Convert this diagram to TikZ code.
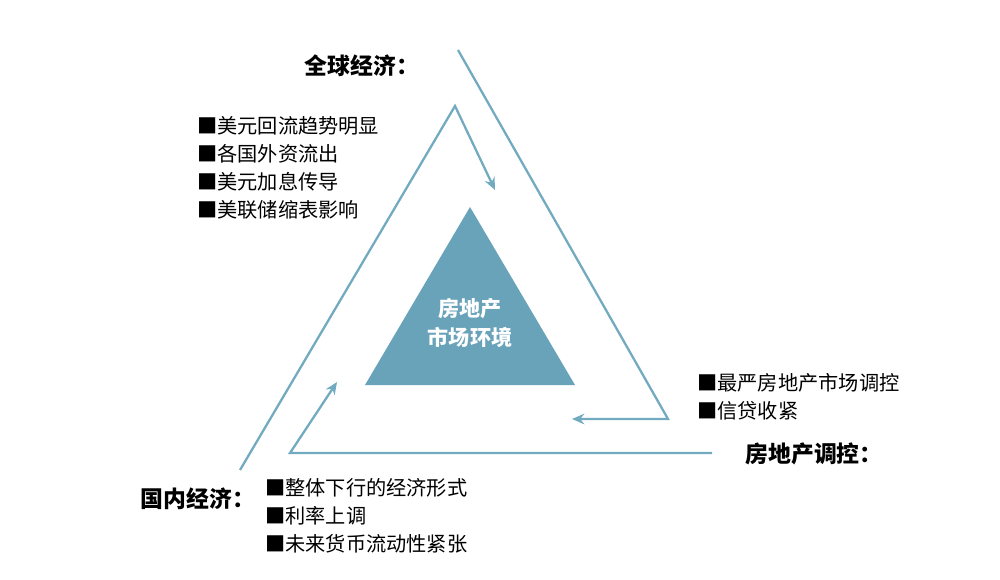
\documentclass[tikz,border=0pt]{standalone}
\usepackage{fontspec}
\setmainfont{Noto Sans CJK SC}
\usetikzlibrary{arrows.meta}
\definecolor{lineblue}{HTML}{72AABF}
\definecolor{triblue}{HTML}{69A3BA}
\begin{document}
\begin{tikzpicture}[x=0.02cm,y=-0.02cm,
    flow/.style={draw=lineblue, line width=1.3pt, -{Stealth[length=7pt,width=6pt]}},
    head/.style={font=\fontsize{13}{15}\selectfont\bfseries, inner sep=0pt},
    item/.style={font=\fontsize{11.5}{14}\selectfont, anchor=west, inner sep=0pt}]
    \useasboundingbox (0,0) rectangle (1000,579);
    % Center triangle
    \fill[triblue] (470,207) coordinate (Apex) -- (575,385) -- (365,385) -- cycle;
    \node[font=\fontsize{12}{17}\selectfont\bfseries, text=white, align=center] (Center) at (470,323) {房地产\\市场环境};
    % Corner points
    \coordinate (Top-1) at (458,50);
    \coordinate (Top-2) at (668,419);
    \coordinate (Top-3) at (572,419);
    \coordinate (Bot-1) at (712,453);
    \coordinate (Bot-2) at (290,453);
    \coordinate (Bot-3) at (337,382);
    \coordinate (Left-1) at (240,470);
    \coordinate (Left-2) at (455,106);
    \coordinate (Left-3) at (495,190);
    % Arrows
    \draw[flow] (Top-1) -- (Top-2) -- (Top-3);
    \draw[flow] (Bot-1) -- (Bot-2) -- (Bot-3);
    \draw[flow] (Left-1) -- (Left-2) -- (Left-3);
    % Global economy
    \node[head] (Global) at (362,66) {全球经济：};
    \foreach \txt/\i/\y in {美元回流趋势明显/1/126,各国外资流出/2/154,美元加息传导/3/182,美联储缩表影响/4/210} {
        \node[item] (Global-\i) at (197,\y) {■\txt};
    }
    % Regulation
    \node[head] (Policy) at (814,454) {房地产调控：};
    \foreach \txt/\i/\y in {最严房地产市场调控/1/383,信贷收紧/2/411} {
        \node[item] (Policy-\i) at (697,\y) {■\txt};
    }
    % Domestic economy
    \node[head] (Home) at (198,499) {国内经济：};
    \foreach \txt/\i/\y in {整体下行的经济形式/1/488,利率上调/2/516,未来货币流动性紧张/3/544} {
        \node[item] (Home-\i) at (265,\y) {■\txt};
    }
\end{tikzpicture}
\end{document}
